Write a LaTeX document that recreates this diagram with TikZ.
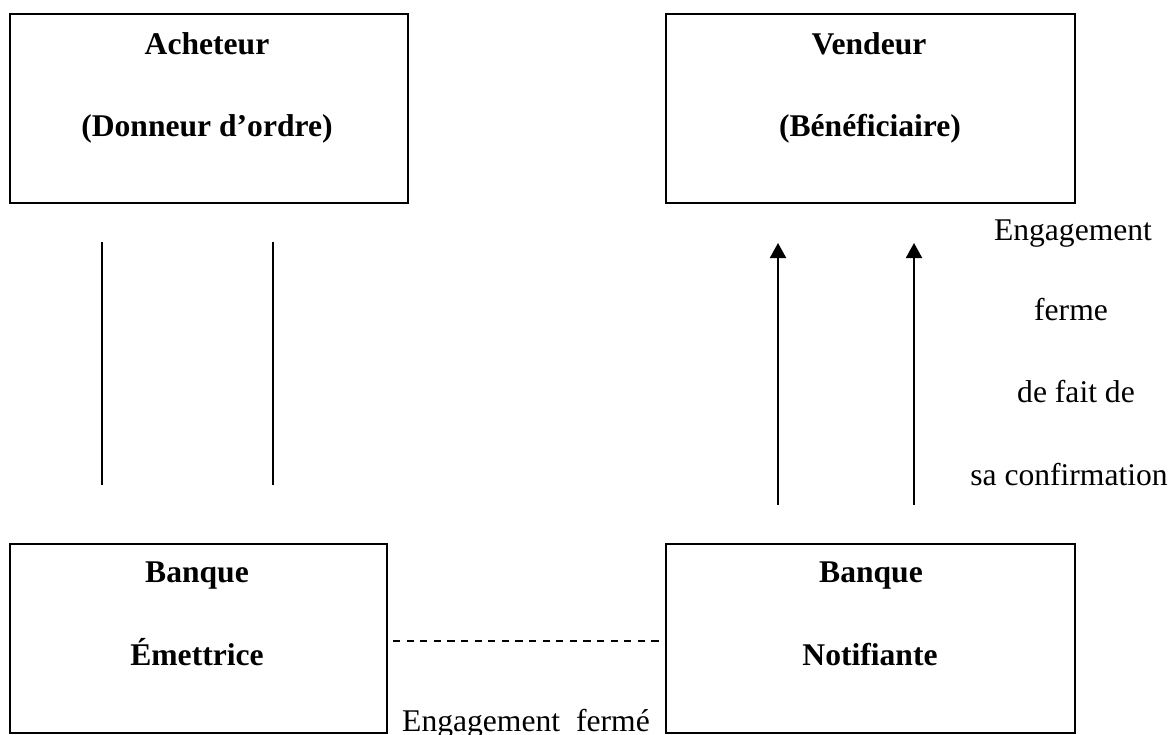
\documentclass[tikz,border=0pt]{standalone}
\usepackage{fontspec}
\setmainfont{Liberation Serif}
\usetikzlibrary{arrows.meta}
\begin{document}
\begin{tikzpicture}[x=0.5pt,y=-0.5pt,
  box/.style={draw,line width=1pt,inner sep=0pt,anchor=north west},
  btxt/.style={font=\fontsize{15.8pt}{18pt}\selectfont\bfseries,anchor=base,inner sep=0pt},
  ntxt/.style={font=\fontsize{15.8pt}{18pt}\selectfont,anchor=base,inner sep=0pt},
  link/.style={line width=1pt},
  arr/.style={line width=1pt,-{Triangle[length=7.5pt,width=8pt]}},
  dashline/.style={line width=1.1pt,dash pattern=on 3.6pt off 3.2pt}]
\useasboundingbox (0,0) rectangle (1171,734);
\clip (0,0) rectangle (1171,734);
% boxes
\node[box,minimum width=199pt,minimum height=94.5pt] (ach) at (9,13) {};
\node[box,minimum width=204.5pt,minimum height=94.5pt] (ven) at (665,13) {};
\node[box,minimum width=188.5pt,minimum height=94.5pt] (bem) at (9,543) {};
\node[box,minimum width=204.5pt,minimum height=94.5pt] (bno) at (665,543) {};
% box texts
\node[btxt] (t1) at (207,54) {Acheteur};
\node[btxt] (t2) at (207,136) {(Donneur d’ordre)};
\node[btxt] (t3) at (869,54) {Vendeur};
\node[btxt] (t4) at (870,136) {(Bénéficiaire)};
\node[btxt] (t5) at (197,582) {Banque};
\node[btxt] (t6) at (197,665) {Émettrice};
\node[btxt] (t7) at (871,582) {Banque};
\node[btxt] (t8) at (870,665) {Notifiante};
% side texts
\node[ntxt] (e1) at (1073,240) {Engagement};
\node[ntxt] (e2) at (1071,320) {ferme};
\node[ntxt] (e3) at (1076,402) {de fait de};
\node[ntxt] (e4) at (1069,485) {sa confirmation};
\node[ntxt] (ef) at (526,731) {Engagement\hspace{8pt}fermé};
% connector end points
\coordinate (l1a) at (102,242); \coordinate (l1b) at (102,485);
\coordinate (l2a) at (273,242); \coordinate (l2b) at (273,485);
\coordinate (a1a) at (778,505); \coordinate (a1b) at (778,243);
\coordinate (a2a) at (914,505); \coordinate (a2b) at (914,243);
\coordinate (dstart) at (393,641);
\coordinate (dend) at (bno.west |- dstart);
% connectors
\draw[link] (l1a) -- (l1b);
\draw[link] (l2a) -- (l2b);
\draw[arr] (a1a) -- (a1b);
\draw[arr] (a2a) -- (a2b);
\draw[dashline] (dstart) -- (dend);
\end{tikzpicture}
\end{document}
